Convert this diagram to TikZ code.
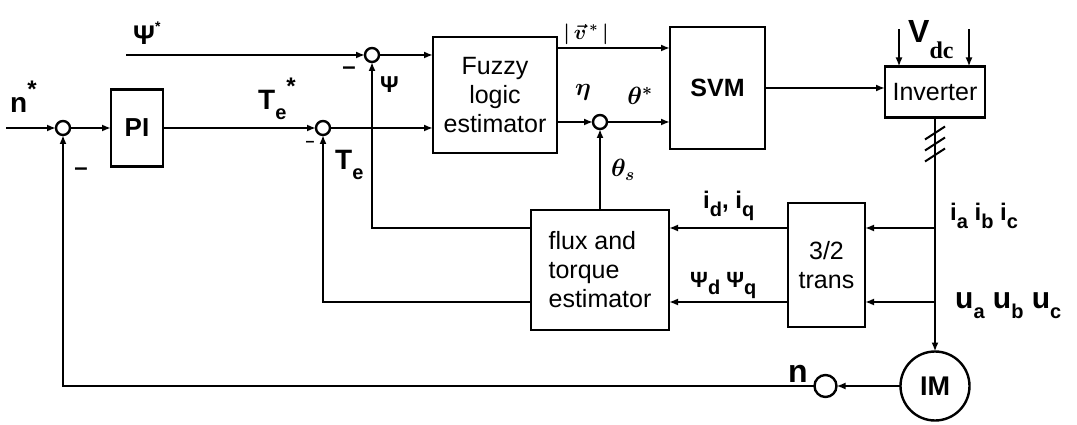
\documentclass[tikz,border=0pt]{standalone}
\usepackage{fontspec}
\setmainfont{Liberation Sans}
\newfontfamily\serifbold{Liberation Serif}
\usepackage{amsmath}
\usetikzlibrary{arrows.meta, positioning, calc}
\newcommand{\lowtxt}[1]{\raisebox{-0.35em}{\fontsize{20}{20}\selectfont #1}}
\newcommand{\hightxt}[1]{\raisebox{0.55em}{\fontsize{24}{24}\selectfont #1}}
\tikzset{
  block/.style={rectangle, draw, line width=2.4pt, inner sep=0pt, outer sep=0pt,
    align=center, font=\fontsize{25}{29}\selectfont},
  sumjunc/.style={circle, draw, line width=2.4pt, minimum size=14pt,
    inner sep=0pt, outer sep=0pt},
  arrow/.style={-{Latex[length=9pt,width=7pt]}, line width=2.3pt},
  line/.style={line width=2.3pt},
  lbl/.style={inner sep=0pt, anchor=base west, font=\fontsize{28}{30}\selectfont\bfseries},
  minus/.style={inner sep=0pt, font=\fontsize{24}{24}\selectfont\bfseries}
}

\begin{document}
\begin{tikzpicture}
  \useasboundingbox (0,0) rectangle (1077pt,-425pt);
  % forward path
  \node[sumjunc] (sum1) at (63pt,-128pt) {};
  \node[block, minimum width=52pt, minimum height=77pt,
    font=\fontsize{26}{29}\selectfont\bfseries, right=41pt of sum1] (pi) {PI};
  \node[sumjunc, right=153pt of pi] (sum2) {};
  \node[block, minimum width=124pt, minimum height=116pt,
    right=103pt of sum2, yshift=33pt] (fuzzy) {Fuzzy\\logic\\estimator};
  \node[sumjunc, left=54pt of fuzzy, yshift=40pt] (sum3) {};
  \node[sumjunc, right=36pt of fuzzy, yshift=-27pt] (sum4) {};
  \node[block, minimum width=95pt, minimum height=122pt,
    font=\fontsize{25}{29}\selectfont\bfseries, right=113pt of fuzzy, yshift=7pt] (svm) {SVM};
  \node[block, minimum width=100pt, minimum height=51pt,
    right=120pt of svm, yshift=-4pt] (inv) {Inverter};
  % feedback path
  \node[block, minimum width=138pt, minimum height=120pt, align=left,
    below=81pt of sum4] (flux) {flux and\\torque\\estimator};
  \node[block, minimum width=77pt, minimum height=124pt,
    right=119pt of flux, yshift=5pt] (trans) {3/2\\trans};
  \node[circle, draw, line width=2.4pt, minimum size=69pt, inner sep=0pt, outer sep=0pt,
    font=\fontsize{27}{29}\selectfont\bfseries, below=234pt of inv] (im) {IM};
  \node[sumjunc, minimum size=22pt, left=64pt of im] (nsens) {};

  \coordinate[left=50pt of sum1] (nin);
  \coordinate[left=239pt of sum3] (psiin);
  \coordinate (vref) at ($(fuzzy.north east)+(0,-11pt)$);
  \coordinate (ib) at ($(trans.east)+(0,37pt)$);
  \coordinate (ub) at ($(trans.east)+(0,-37pt)$);
  \coordinate (vdca) at ($(inv.north west)+(14pt,37pt)$);
  \coordinate (vdcb) at ($(inv.north east)+(-16pt,37pt)$);
  \coordinate (slash) at ($(inv.south)+(0,-25pt)$);

  \draw[arrow] (nin) -- (sum1);
  \draw[arrow] (sum1) -- (pi);
  \draw[arrow] (pi) -- (sum2);
  \draw[arrow] (sum2) -- (sum2 -| fuzzy.west);
  \draw[arrow] (psiin) -- (sum3);
  \draw[arrow] (sum3) -- (sum3 -| fuzzy.west);
  \draw[arrow] (vref) -- (vref -| svm.west);
  \draw[arrow] (fuzzy.east |- sum4) -- (sum4);
  \draw[arrow] (sum4) -- (sum4 -| svm.west);
  \draw[arrow] (flux.north) -- (sum4);
  \draw[arrow] (svm.east) -- (svm.east -| inv.west);
  \draw[arrow] (vdca) -- (vdca |- inv.north);
  \draw[arrow] (vdcb) -- (vdcb |- inv.north);
  \draw[arrow] (inv) -- (im);
  \foreach \dy in {-19,-8,3}
    \draw[line width=2pt] (slash) ++(-10pt,\dy pt) -- ++(20pt,13pt);
  \draw[arrow] (ib -| inv) -- (ib);
  \draw[arrow] (ub -| inv) -- (ub);
  \draw[arrow] (ib -| trans.west) -- (ib -| flux.east);
  \draw[arrow] (ub -| trans.west) -- (ub -| flux.east);
  \draw[arrow] (ib -| flux.west) -| (sum3);
  \draw[arrow] (ub -| flux.west) -| (sum2);
  \draw[arrow] (im) -- (nsens);
  \draw[arrow] (nsens) -| (sum1);

  % labels
  \node[lbl] (lnref) at (10pt,-113pt) {n\hightxt{*}};
  \node[lbl] (ltref) at (258pt,-110pt) {T\lowtxt{e}\hightxt{*}};
  \node[lbl] (ltfb) at (335pt,-170pt) {T\lowtxt{e}};
  \node[lbl, font=\fontsize{27}{27}\selectfont\bfseries] (lpsiref) at (133pt,-45pt)
    {Ψ\raisebox{0.5em}{\fontsize{14}{14}\selectfont *}};
  \node[lbl, font=\fontsize{23}{23}\selectfont\bfseries] (lpsifb) at (380pt,-93pt) {Ψ};
  \node[minus] (mone) at (81pt,-172pt) {–};
  \node[minus] (mtwo) at (349pt,-71pt) {–};
  \node[minus, font=\fontsize{16}{16}\selectfont\bfseries] (mthree) at (310pt,-144pt) {–};
  \node[inner sep=0pt, font=\fontsize{22}{22}\selectfont] (lvref) at (586pt,-34pt)
    {$\boldsymbol{|\,\vec{v}^{\,*}\,|}$};
  \node[inner sep=0pt, font=\fontsize{28}{28}\selectfont] (leta) at (583pt,-92pt) {$\boldsymbol{\eta}$};
  \node[inner sep=0pt, font=\fontsize{26}{26}\selectfont] (lthref) at (640pt,-96pt) {$\boldsymbol{\theta^{*}}$};
  \node[inner sep=0pt, font=\fontsize{26}{26}\selectfont] (lths) at (623pt,-170pt) {$\boldsymbol{\theta_{s}}$};
  \node[lbl, font=\fontsize{32}{32}\selectfont\bfseries] (lvdc) at (908pt,-43pt)
    {V\raisebox{-0.5em}{\fontsize{24}{24}\selectfont\serifbold dc}};
  \node[lbl, font=\fontsize{24}{24}\selectfont\bfseries] (lidq) at (703pt,-208pt)
    {i\lowtxt{d}, i\lowtxt{q}};
  \node[lbl, font=\fontsize{22}{22}\selectfont\bfseries] (lpsidq) at (690pt,-287pt)
    {Ψ\lowtxt{d} Ψ\lowtxt{q}};
  \node[lbl, font=\fontsize{24}{24}\selectfont\bfseries] (liabc) at (950pt,-220pt)
    {i\lowtxt{a} i\lowtxt{b} i\lowtxt{c}};
  \node[lbl, font=\fontsize{30}{30}\selectfont\bfseries] (luabc) at (955pt,-308pt)
    {u\lowtxt{a} u\lowtxt{b} u\lowtxt{c}};
  \node[lbl, font=\fontsize{32}{32}\selectfont\bfseries] (lnfb) at (788pt,-382pt) {n};
\end{tikzpicture}
\end{document}
